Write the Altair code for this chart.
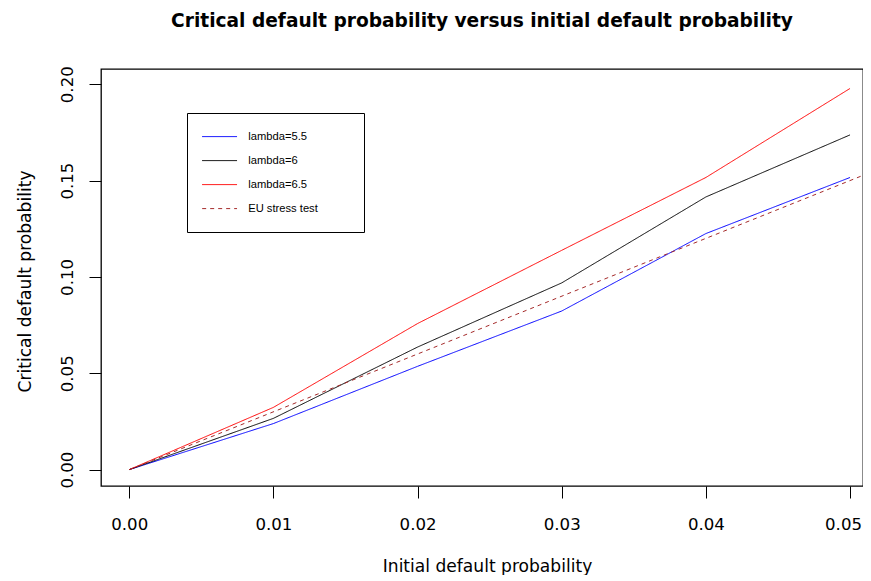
import altair as alt
import pandas as pd

# Data
x_vals = [0.00, 0.01, 0.02, 0.03, 0.04, 0.05]
lambda_55 = [0.0, 0.0239, 0.0536, 0.0823, 0.1225, 0.1516]
lambda_6 = [0.0, 0.0266, 0.0636, 0.0969, 0.1415, 0.1737]
lambda_65 = [0.0, 0.0323, 0.0758, 0.1138, 0.1516, 0.1978]
eu_x = [0.0, 0.0509]
eu_y = [0.0, 0.1527]

series_names = ["lambda=5.5", "lambda=6", "lambda=6.5", "EU stress test"]
series_colors = ["#0000ff", "#000000", "#ff0000", "#a52a2a"]
series_dash = [[1, 0], [1, 0], [1, 0], [4, 4]]

x_ticks = [0.0, 0.01, 0.02, 0.03, 0.04, 0.05]
y_ticks = [0.0, 0.05, 0.10, 0.15, 0.20]

rows = []
for name, ys in zip(series_names[:3], [lambda_55, lambda_6, lambda_65]):
    for i, (xv, yv) in enumerate(zip(x_vals, ys)):
        rows.append({"series": name, "x": xv, "y": yv, "order": i})
for i, (xv, yv) in enumerate(zip(eu_x, eu_y)):
    rows.append({"series": series_names[3], "x": xv, "y": yv, "order": i})
df = pd.DataFrame(rows)

FONT = "DejaVu Sans"
LEGEND_FONT = "Liberation Sans"

legend = alt.Legend(
    orient="none",
    legendX=86,
    legendY=44,
    title=" ",
    titleOrient="right",
    titlePadding=28,
    titleFontSize=11,
    strokeColor="black",
    fillColor="white",
    padding=18,
    symbolType="M-4,0H4",
    symbolSize=76,
    symbolStrokeWidth=1,
    symbolOffset=9,
    labelFontSize=11.2,
    labelFont=LEGEND_FONT,
    labelOffset=23,
    rowPadding=12,
    cornerRadius=0,
)

chart = alt.Chart(df).mark_line(strokeWidth=1, clip=True).encode(
    x=alt.X(
        "x:Q",
        scale=alt.Scale(domain=[-0.00196, 0.0509], nice=False, zero=False),
        axis=alt.Axis(
            values=x_ticks,
            format=".2f",
            title="Initial default probability",
            titleX=386,
            titleY=85,
            titleBaseline="alphabetic",
            titleAlign="center",
            labelBaseline="alphabetic",
            labelPadding=31,
            labelOffset={"condition": {"test": "datum.value > 0.045", "value": -7}, "value": 0},
        ),
    ),
    y=alt.Y(
        "y:Q",
        scale=alt.Scale(domain=[-0.0085, 0.2079], nice=False, zero=False),
        axis=alt.Axis(
            values=y_ticks,
            format=".2f",
            title="Critical default probability",
            titleAngle=270,
            titleX=-70.3,
            titleY=212,
            titleBaseline="alphabetic",
            titleAlign="center",
            labelAngle=270,
            labelAlign="center",
            labelBaseline="alphabetic",
            labelPadding=17,
        ),
    ),
    color=alt.Color(
        "series:N",
        scale=alt.Scale(domain=series_names, range=series_colors),
        sort=series_names,
        legend=legend,
    ),
    strokeDash=alt.StrokeDash(
        "series:N",
        scale=alt.Scale(domain=series_names, range=series_dash),
        sort=series_names,
        legend=legend,
    ),
    order="order:Q",
).properties(
    width=762,
    height=417,
    title=alt.TitleParams(
        "Critical default probability versus initial default probability",
        font=FONT,
        fontSize=18.6,
        fontWeight="bold",
        anchor="middle",
        baseline="alphabetic",
        offset=20,
        color="black",
    ),
    autosize=alt.AutoSizeParams(type="none"),
    padding={"left": 93, "top": 61, "right": 0, "bottom": 89},
).configure_view(
    stroke="black", strokeWidth=1.3
).configure_axis(
    domain=False,
    grid=False,
    ticks=True,
    tickSize=12,
    tickColor="black",
    tickWidth=1,
    labelFont=FONT,
    labelFontSize=16.6,
    labelColor="black",
    titleFont=FONT,
    titleFontSize=17.1,
    titleFontWeight="normal",
    titleColor="black",
    labelFlush=False,
    labelOverlap=False,
)

chart.save("out.html", embed_options={"renderer": "svg", "actions": False})
